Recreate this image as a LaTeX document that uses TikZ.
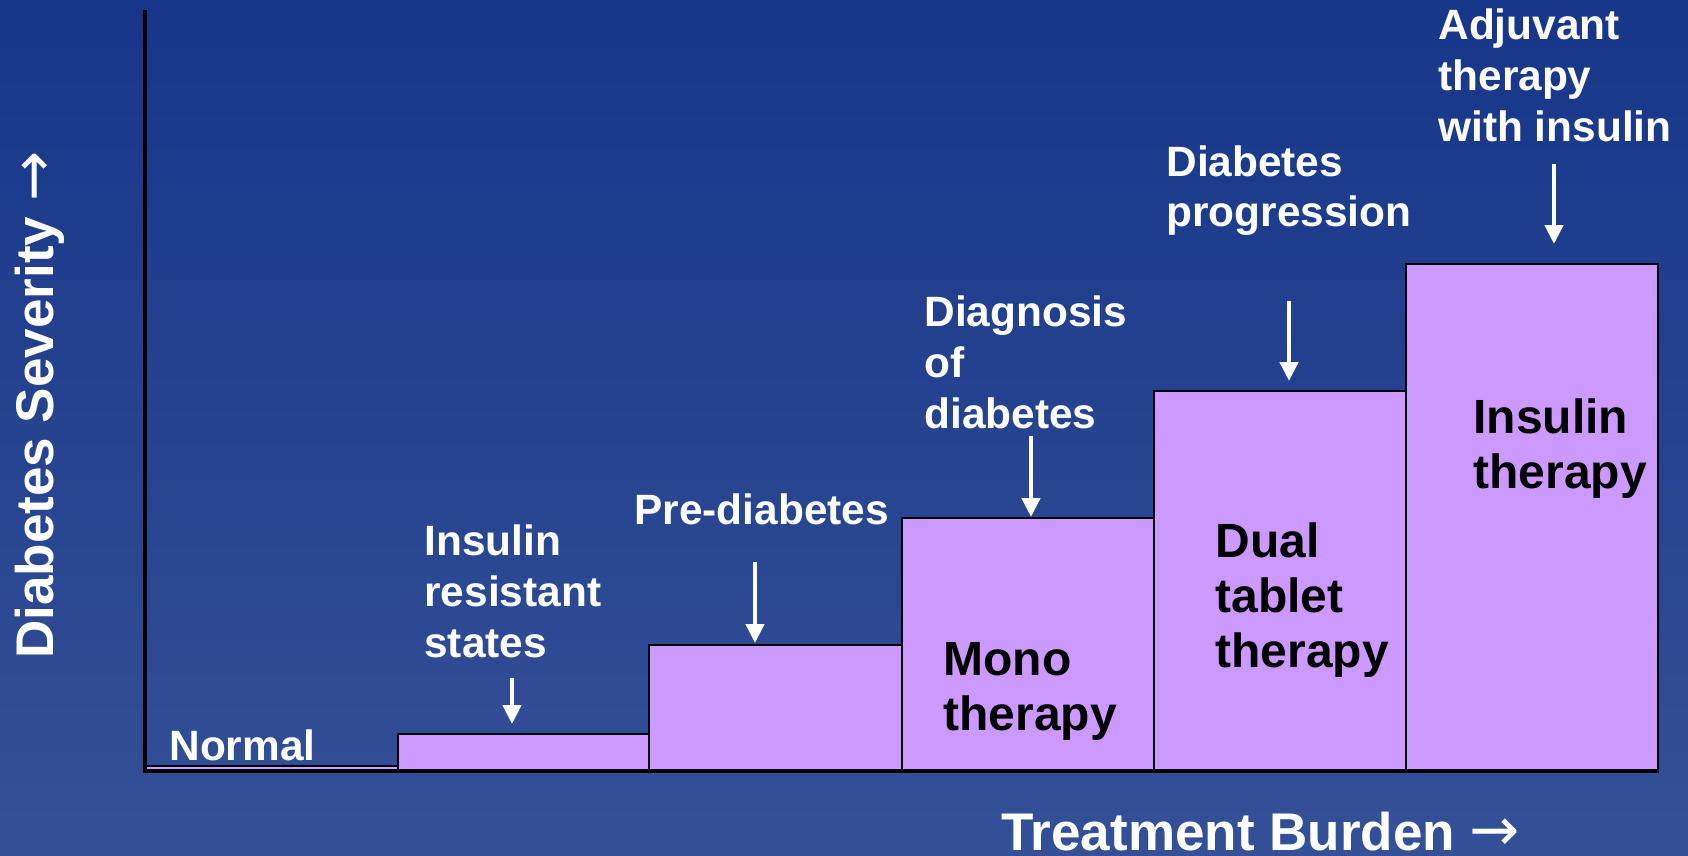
\documentclass[tikz,border=0pt]{standalone}
\usepackage{fontspec}
\setmainfont{Liberation Sans}
\newfontfamily\arrowfont{DejaVu Sans}
\usetikzlibrary{arrows.meta}
\definecolor{bgtop}{RGB}{23,54,137}
\definecolor{bgbot}{RGB}{52,80,150}
\definecolor{barfill}{RGB}{204,153,255}
\newcommand{\axarrow}{{\arrowfont\mdseries\fontsize{30}{30}\selectfont →}}
\tikzset{
  bar/.style={fill=barfill,draw=black,line width=0.7pt},
  axisline/.style={draw=black,line width=2pt},
  wlab/.style={text=white,font=\bfseries\fontsize{21.2}{25.3}\selectfont,inner sep=0pt,align=left,anchor=base west},
  blab/.style={text=black,font=\bfseries\fontsize{24}{27.5}\selectfont,inner sep=0pt,align=left,anchor=base west},
  axlab/.style={text=white,font=\bfseries\fontsize{26.5}{30}\selectfont,inner sep=0pt},
  pointer/.style={draw=white,line width=2.2pt,-{Triangle[length=9.5pt,width=9pt]}}
}
\begin{document}
\begin{tikzpicture}[x=0.5pt,y=-0.5pt]
\useasboundingbox (0,0) rectangle (1688,856);
\fill[top color=bgtop,bottom color=bgbot] (0,0) rectangle (1688,856);
% bars
\draw[bar] (145,771) rectangle (398,766);
\draw[bar] (398,771) rectangle (649,734);
\draw[bar] (649,771) rectangle (902,645);
\draw[bar] (902,771) rectangle (1154,518);
\draw[bar] (1154,771) rectangle (1406,391);
\draw[bar] (1406,771) rectangle (1658,264);
% axes
\coordinate (origin) at (145,771);
\coordinate (ytop) at (145,10);
\coordinate (xend) at (1659,771);
\draw[axisline] (ytop) -- (origin) -- (xend);
% labels (anchor = baseline of last line)
\node[wlab] (normal) at (169,760) {Normal};
\node[wlab] (irs) at (424,657) {Insulin\\resistant\\states};
\node[wlab] (pre) at (634,524) {Pre-diabetes};
\node[wlab] (diag) at (924,428) {Diagnosis\\of\\diabetes};
\node[wlab] (prog) at (1166,227) {Diabetes\\progression};
\node[wlab] (adj) at (1438,141) {Adjuvant\\therapy\\with insulin};
\node[blab] (mono) at (943,730) {Mono\\therapy};
\node[blab] (dual) at (1215,667) {Dual\\tablet\\therapy};
\node[blab] (ins) at (1473,488) {Insulin\\therapy};
% pointers
\coordinate (a1s) at (512,678); \coordinate (a1e) at (512,724);
\coordinate (a2s) at (755,562); \coordinate (a2e) at (755,643);
\coordinate (a3s) at (1031,436); \coordinate (a3e) at (1031,517);
\coordinate (a4s) at (1289,301); \coordinate (a4e) at (1289,381);
\coordinate (a5s) at (1554,164); \coordinate (a5e) at (1554,244);
\draw[pointer] (a1s) -- (a1e);
\draw[pointer] (a2s) -- (a2e);
\draw[pointer] (a3s) -- (a3e);
\draw[pointer] (a4s) -- (a4e);
\draw[pointer] (a5s) -- (a5e);
% axis titles
\node[axlab,anchor=base west] (xlab) at (1001,850) {Treatment Burden \axarrow};
\node[axlab,anchor=base west,rotate=90] (ylab) at (54,659) {Diabetes Severity \axarrow};
\end{tikzpicture}
\end{document}
